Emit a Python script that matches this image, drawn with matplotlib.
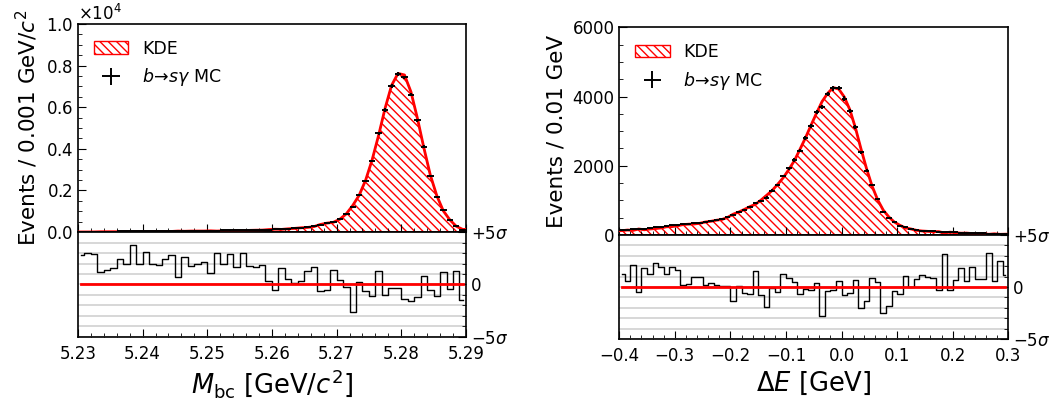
import numpy as np
import matplotlib.pyplot as plt
from matplotlib.ticker import MultipleLocator

plt.rcParams['font.family'] = 'DejaVu Sans'
plt.rcParams['mathtext.fontset'] = 'dejavusans'
plt.rcParams['hatch.color'] = 'red'
plt.rcParams['hatch.linewidth'] = 1.0

# Mbc: 60 bins of 0.001 GeV/c^2 between 5.23 and 5.29
mbc_range = (5.23, 5.29)
mbc_mc = [12, 14, 16, 18, 20, 22, 25, 28, 30, 32,
          34, 37, 40, 43, 47, 51, 55, 59, 62, 64,
          66, 70, 74, 78, 84, 90, 96, 104, 112, 120,
          128, 144, 160, 176, 208, 240, 288, 353, 416, 497,
          625, 865, 1186, 1779, 2470, 3410, 4740, 5870, 7020, 7600,
          7430, 6610, 5380, 4100, 2710, 1700, 1060, 580, 300, 110]
mbc_pull = [2.8, 3.0, 2.9, 1.2, 1.4, 1.6, 2.4, 2.0, 3.8, 2.0,
            3.1, 2.0, 1.9, 2.4, 2.8, 0.7, 2.6, 1.75, 2.0, 2.1,
            1.1, 3.0, 2.0, 2.9, 1.65, 3.0, 1.75, 1.65, 1.9, 0.3,
            -0.5, 1.55, 0.5, 0.1, 0.3, 1.3, 1.65, -0.6, -0.5, 1.4,
            0.45, -0.25, -2.6, 0.2, -0.6, -1.05, 1.3, -1.0, -0.3, -0.3,
            -1.4, -1.6, -1.2, 0.85, -0.5, -1.1, 1.2, -0.4, 1.3, -1.5]

# Delta E: 70 bins of 0.01 GeV between -0.4 and 0.3
de_range = (-0.4, 0.3)
de_mc = [140, 150, 160, 168, 175, 190, 220, 232, 258, 275,
         295, 305, 318, 335, 356, 380, 404, 430, 452, 510,
         568, 664, 722, 799, 934, 982, 1079, 1280, 1444, 1704,
         1926, 2166, 2436, 2793, 3149, 3544, 3688, 4065, 4238, 4250,
         3939, 3582, 3130, 2388, 1859, 1444, 1030, 655, 482, 366,
         270, 222, 173, 144, 128, 116, 105, 95, 87, 80,
         72, 67, 60, 55, 48, 45, 41, 38, 34, 30]
de_pull = [1.26, 0.55, 2.16, -0.48, 1.84, 1.26, 2.32, 1.94, 1.29, 1.94,
           1.68, 0.23, 0.32, 0.94, 0.94, 0.23, 0.39, 0.16, 0.13, 0.06,
           -1.39, 0.06, -0.58, -0.68, 1.58, -0.81, -1.97, -0.1, -0.48, 1.26,
           0.87, 0.48, -0.65, -0.19, -0.32, 0.39, -2.77, -0.42, -0.32, 0.55,
           -0.74, -0.58, 0.65, -2.03, -1.32, 0.87, 0.45, -2.52, -1.87, -0.42,
           -0.65, 1.1, -0.03, 0.81, 1.13, 1.0, 0.9, -0.32, 3.19, -0.26,
           0.71, 1.84, 0.55, 1.97, 0.77, 0.81, 3.23, 0.55, 2.48, 1.19]

fig = plt.figure(figsize=(10.62, 4.03), dpi=100)


def panel(rect_main, rect_res, xr, mc, pull, ylabel, xlabel, ymax,
          ymaj, ymin, xmaj, xmin):
    mc = np.array(mc, float)
    pull = np.array(pull, float)
    n = len(mc)
    w = (xr[1] - xr[0]) / n
    x = xr[0] + w * (np.arange(n) + 0.5)
    err = np.sqrt(mc)
    kde = np.clip(mc - pull * err, 0, None)
    xk = np.r_[xr[0], x, xr[1]]
    yk = np.r_[kde[0], kde, kde[-1]]

    ax = fig.add_axes(rect_main)
    ax.fill_between(xk, 0, yk, facecolor='white', edgecolor='red',
                    hatch='\\\\\\\\', lw=1, label='KDE')
    ax.plot(xk, yk, color='red', lw=2, zorder=3)
    ax.errorbar(x, mc, xerr=w / 2, yerr=err, fmt='none', ecolor='black',
                elinewidth=1.4, capsize=0, zorder=4,
                label=r'$b\!\rightarrow\! s\gamma$ MC')
    ax.set_xlim(*xr)
    ax.set_ylim(0, ymax)
    ax.yaxis.set_major_locator(MultipleLocator(ymaj))
    ax.yaxis.set_minor_locator(MultipleLocator(ymin))
    ax.xaxis.set_major_locator(MultipleLocator(xmaj))
    ax.xaxis.set_minor_locator(MultipleLocator(xmin))
    ax.tick_params(which='both', direction='in', labelbottom=False,
                   labelsize=12)
    ax.tick_params(which='major', length=6)
    ax.tick_params(which='minor', length=3)
    ax.set_ylabel(ylabel, fontsize=15.5)
    h, l = ax.get_legend_handles_labels()
    ax.legend(h, l, loc='upper left', frameon=False, fontsize=12.5)
    for s in ax.spines.values():
        s.set_linewidth(1.2)

    ar = fig.add_axes(rect_res, sharex=ax)
    ar.set_axisbelow(True)
    ar.plot(x, pull, drawstyle='steps-mid', color='black', lw=1)
    ar.plot([x[0], x[-1]], [0, 0], color='red', lw=2)
    ar.set_ylim(-5, 5)
    ar.yaxis.tick_right()
    ar.set_yticks([-5, 0, 5])
    ar.set_yticklabels([r'$-5\sigma$', '0', r'$+5\sigma$'])
    ar.yaxis.set_minor_locator(MultipleLocator(1))
    ar.grid(axis='y', which='both', color='#d4d4d4', lw=1.3)
    ar.tick_params(which='both', direction='in', labelsize=12)
    ar.tick_params(which='major', length=6)
    ar.tick_params(which='minor', length=3)
    ar.tick_params(axis='x', labelbottom=True, pad=6)
    ar.set_xlabel(xlabel, fontsize=18.5, labelpad=3)
    for s in ar.spines.values():
        s.set_linewidth(1.2)
    return ax, ar


ax1, ar1 = panel([0.0734, 0.4243, 0.3653, 0.5161], [0.0734, 0.1638, 0.3653, 0.2605],
                 mbc_range, mbc_mc, mbc_pull,
                 r'Events / 0.001 GeV/$c^2$', r'$M_{\rm bc}$ [GeV/$c^2$]',
                 10000, 2000, 500, 0.01, 0.002)
ax1.ticklabel_format(axis='y', style='sci', scilimits=(0, 0), useMathText=True)
ax1.yaxis.get_offset_text().set_fontsize(12)

ax2, ar2 = panel([0.5831, 0.4169, 0.3663, 0.5154], [0.5831, 0.1588, 0.3663, 0.2581],
                 de_range, de_mc, de_pull,
                 'Events / 0.01 GeV', r'$\Delta E$ [GeV]',
                 6000, 2000, 500, 0.1, 0.02)

fig.savefig('out.png', dpi=100)
